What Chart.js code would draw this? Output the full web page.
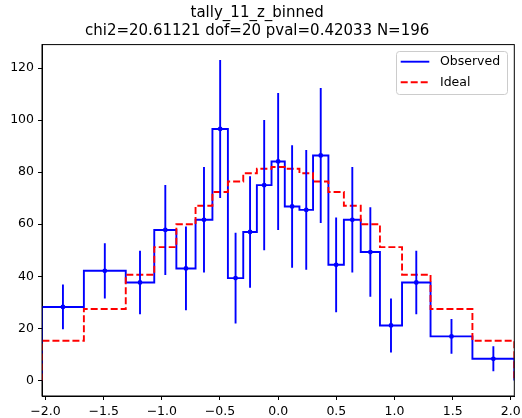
<!DOCTYPE html>
<html>
<head>
<meta charset="utf-8">
<script src="https://cdn.jsdelivr.net/npm/chart.js@4/dist/chart.umd.min.js"></script>
<style>
  html, body { margin: 0; padding: 0; background: #fff; }
  canvas { display: block; }
</style>
</head>
<body>
<canvas id="chart" width="522" height="418"></canvas>
<script>
// bin edges (z) and per-bin values
const binEdges = [-2.03, -1.67, -1.31, -1.065, -0.875, -0.71, -0.565, -0.432, -0.30, -0.183, -0.057,
                  0.057, 0.183, 0.30, 0.432, 0.565, 0.71, 0.875, 1.065, 1.31, 1.67, 2.03];
const observed = [28.2, 42.1, 37.6, 57.8, 43.0, 61.7, 96.6, 39.3, 57.0, 75.0, 84.1,
                  66.8, 65.5, 86.4, 44.4, 61.7, 49.3, 21.1, 37.6, 16.9, 8.3];
const observedErr = [8.6, 10.6, 12.2, 17.3, 16.1, 20.3, 26.5, 17.4, 21.4, 25.0, 26.3,
                     23.5, 23.0, 25.9, 18.2, 20.3, 17.2, 10.4, 12.2, 6.7, 4.8];
const ideal = [15.2, 27.4, 40.6, 51.2, 60.0, 67.1, 72.4, 76.4, 79.6, 81.3, 82.0,
               81.3, 79.6, 76.4, 72.4, 67.1, 60.0, 51.2, 40.6, 27.4, 15.2];
const xTicks = [-2.0, -1.5, -1.0, -0.5, 0.0, 0.5, 1.0, 1.5, 2.0];
const yTicks = [0, 20, 40, 60, 80, 100, 120];

const titleLines = ['tally_11_z_binned', 'chi2=20.61121 dof=20 pval=0.42033 N=196'];
const FONT = "'DejaVu Sans', sans-serif";

function stepPoints(values) {
  const pts = [{ x: binEdges[0], y: 0 }];
  values.forEach((v, i) => {
    pts.push({ x: binEdges[i], y: v });
    pts.push({ x: binEdges[i + 1], y: v });
  });
  pts.push({ x: binEdges[binEdges.length - 1], y: 0 });
  return pts;
}

function binCenters() {
  return observed.map((v, i) => (binEdges[i] + binEdges[i + 1]) / 2);
}

function errorBarPoints() {
  const pts = [];
  binCenters().forEach((c, i) => {
    pts.push({ x: c, y: observed[i] - observedErr[i] });
    pts.push({ x: c, y: observed[i] + observedErr[i] });
    pts.push({ x: c, y: null });
  });
  return pts;
}

function fmt(v) {
  return v.toFixed(1).replace('-', '\u2212');
}

// matplotlib-style frame + legend
const framePlugin = {
  id: 'frame',
  afterDatasetsDraw(chart) {
    const { ctx, chartArea: a } = chart;
    ctx.save();
    ctx.strokeStyle = '#000';
    ctx.lineWidth = 1;
    ctx.strokeRect(a.left, a.top, a.right - a.left, a.bottom - a.top);

    // legend box
    const bx = 396.5, by = 51.5, bw = 111, bh = 43, r = 3;
    ctx.beginPath();
    ctx.moveTo(bx + r, by);
    ctx.arcTo(bx + bw, by, bx + bw, by + bh, r);
    ctx.arcTo(bx + bw, by + bh, bx, by + bh, r);
    ctx.arcTo(bx, by + bh, bx, by, r);
    ctx.arcTo(bx, by, bx + bw, by, r);
    ctx.closePath();
    ctx.fillStyle = 'rgba(255,255,255,0.8)';
    ctx.fill();
    ctx.strokeStyle = '#cccccc';
    ctx.stroke();

    const items = [
      { label: 'Observed', color: '#0000ff', dash: [], y: 61.7 },
      { label: 'Ideal', color: '#ff0000', dash: [7, 3], y: 82.3 }
    ];
    items.forEach(it => {
      ctx.beginPath();
      ctx.setLineDash(it.dash);
      ctx.strokeStyle = it.color;
      ctx.lineWidth = 1.9;
      ctx.moveTo(400.7, it.y);
      ctx.lineTo(429.3, it.y);
      ctx.stroke();
      ctx.setLineDash([]);
      ctx.fillStyle = '#000';
      ctx.font = '12.5px ' + FONT;
      ctx.textBaseline = 'middle';
      ctx.textAlign = 'left';
      ctx.fillText(it.label, 440, it.y);
    });
    ctx.restore();
  }
};

new Chart(document.getElementById('chart'), {
  type: 'scatter',
  data: {
    datasets: [
      {
        label: 'Observed',
        data: stepPoints(observed),
        showLine: true,
        borderColor: '#0000ff',
        borderWidth: 1.9,
        pointRadius: 0,
        order: 3
      },
      {
        label: 'Ideal',
        data: stepPoints(ideal),
        showLine: true,
        borderColor: '#ff0000',
        borderWidth: 1.9,
        borderDash: [7, 3],
        pointRadius: 0,
        order: 2
      },
      {
        label: 'errors',
        data: errorBarPoints(),
        showLine: true,
        spanGaps: false,
        borderColor: '#0000ff',
        borderWidth: 1.9,
        pointRadius: 0,
        order: 1
      },
      {
        label: 'points',
        data: binCenters().map((c, i) => ({ x: c, y: observed[i] })),
        backgroundColor: '#0000ff',
        borderColor: '#0000ff',
        pointRadius: 2.4,
        pointBorderWidth: 0,
        order: 0
      }
    ]
  },
  options: {
    responsive: false,
    animation: false,
    events: [],
    layout: { padding: { left: 0, right: 7.7, top: 0, bottom: 0 } },
    scales: {
      x: {
        type: 'linear',
        min: binEdges[0],
        max: binEdges[binEdges.length - 1],
        afterBuildTicks: scale => { scale.ticks = xTicks.map(v => ({ value: v })); },
        afterFit: scale => { scale.height = 22; scale.paddingLeft = 0; scale.paddingRight = 0; },
        ticks: {
          autoSkip: false,
          maxRotation: 0,
          padding: 4,
          color: '#000',
          font: { family: FONT, size: 12.5 },
          callback: v => fmt(v)
        },
        grid: { drawOnChartArea: false, drawTicks: true, tickLength: 4, color: '#000' },
        border: { display: true, color: '#000', width: 1 }
      },
      y: {
        type: 'linear',
        min: -6,
        max: 129,
        afterBuildTicks: scale => { scale.ticks = yTicks.map(v => ({ value: v })); },
        afterFit: scale => { scale.width = 42; scale.paddingTop = 0; scale.paddingBottom = 0; },
        ticks: {
          autoSkip: false,
          padding: 4,
          color: '#000',
          font: { family: FONT, size: 12.5 },
          callback: v => String(v)
        },
        grid: { drawOnChartArea: false, drawTicks: true, tickLength: 4, color: '#000' },
        border: { display: true, color: '#000', width: 1 }
      }
    },
    plugins: {
      legend: { display: false },
      tooltip: { enabled: false },
      title: {
        display: true,
        text: titleLines,
        color: '#000',
        font: { family: FONT, size: 15, weight: 'normal', lineHeight: 1.17 },
        padding: { top: 4.5, bottom: 5 }
      }
    }
  },
  plugins: [framePlugin]
});
</script>
</body>
</html>
